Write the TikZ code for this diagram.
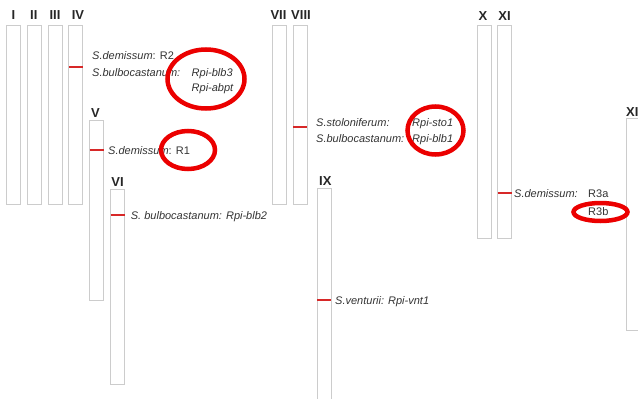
\documentclass[tikz,border=0pt]{standalone}
\usepackage{fontspec}
\setmainfont{Liberation Sans}
\begin{document}
\begin{tikzpicture}[x=1pt,y=-1pt,
  chrom/.style={draw=black!20, fill=white, line width=0.9pt, anchor=north west,
    inner sep=0pt, outer sep=0pt, minimum width=14pt},
  num/.style={font=\fontsize{13}{13}\selectfont\bfseries, text=black!85, inner sep=0pt},
  lab/.style={font=\fontsize{11}{11}\selectfont, text=black!80, anchor=base west, inner sep=0pt},
  locus/.style={draw={rgb,255:red,215;green,40;blue,40}, line width=2pt},
  ring/.style={draw={rgb,255:red,235;green,0;blue,0}, line width=4.5pt}]
\useasboundingbox (0,0) rectangle (638,399);
% chromosomes
\node[chrom, minimum height=179pt] (c1) at (6.5,25) {};
\node[chrom, minimum height=179pt] (c2) at (27.3,25) {};
\node[chrom, minimum height=179pt] (c3) at (48,25) {};
\node[chrom, minimum height=179pt] (c4) at (68.8,25) {};
\node[chrom, minimum height=180pt] (c5) at (89.5,120) {};
\node[chrom, minimum height=195pt] (c6) at (110.5,189) {};
\node[chrom, minimum height=179pt] (c7) at (272.3,25) {};
\node[chrom, minimum height=179pt] (c8) at (293.3,25) {};
\node[chrom, minimum height=230pt] (c9) at (317.3,188) {};
\node[chrom, minimum height=213pt] (c10) at (477.3,25) {};
\node[chrom, minimum height=213pt] (c11) at (497.7,25) {};
\node[chrom, minimum height=212pt, minimum width=30pt] (c12) at (626.7,118) {};
% numerals
\node[num] (n1) at (13.5,15.5) {I};
\node[num] (n2) at (33.8,15.5) {II};
\node[num] (n3) at (55,15.5) {III};
\node[num] (n4) at (78,15.5) {IV};
\node[num] (n5) at (95.5,113) {V};
\node[num] (n6) at (117.5,182) {VI};
\node[num] (n7) at (278.5,15.5) {VII};
\node[num] (n8) at (301,15.5) {VIII};
\node[num] (n9) at (325.3,181) {IX};
\node[num] (n10) at (483,16.5) {X};
\node[num] (n11) at (504.5,16.5) {XI};
\node[num, anchor=west] (n12) at (626,112.5) {XII};
% locus heights
\coordinate (m4) at (0,67);
\coordinate (m5) at (0,150);
\coordinate (m6) at (0,215);
\coordinate (m8) at (0,127);
\coordinate (m9) at (0,300);
\coordinate (m11) at (0,193);
% loci
\draw[locus] (c4.west |- m4) -- (c4.east |- m4);
\draw[locus] (c5.west |- m5) -- (c5.east |- m5);
\draw[locus] (c6.west |- m6) -- (c6.east |- m6);
\draw[locus] (c8.west |- m8) -- (c8.east |- m8);
\draw[locus] (c9.west |- m9) -- (c9.east |- m9);
\draw[locus] (c11.west |- m11) -- (c11.east |- m11);
% labels
\node[lab] (t1) at (92,59) {\textit{S.demissum}: R2};
\node[lab] (t2) at (92,76) {\textit{S.bulbocastanum:}};
\node[lab] (t3) at (191.5,76) {\textit{Rpi-blb3}};
\node[lab] (t4) at (191.5,91) {\textit{Rpi-abpt}};
\node[lab] (t5) at (108,154) {\textit{S.demissum}: R1};
\node[lab] (t6) at (130.7,219) {\textit{S. bulbocastanum: Rpi-blb2}};
\node[lab] (t7) at (316,126) {\textit{S.stoloniferum:}};
\node[lab] (t8) at (316,142) {\textit{S.bulbocastanum:}};
\node[lab] (t9) at (412,126) {\textit{Rpi-sto1}};
\node[lab] (t10) at (412,142) {\textit{Rpi-blb1}};
\node[lab] (t11) at (335,304) {\textit{S.venturii: Rpi-vnt1}};
\node[lab] (t12) at (514,197.5) {\textit{S.demissum:}};
\node[lab] (t13) at (588,197.5) {R3a};
\node[lab] (t14) at (588,215.5) {R3b};
% highlight rings
\draw[ring] (206,79) ellipse [x radius=38.5pt, y radius=29.5pt];
\draw[ring] (188,150) ellipse [x radius=27pt, y radius=19pt];
\draw[ring] (435.5,130.5) ellipse [x radius=28pt, y radius=24pt];
\draw[ring] (600.5,212) ellipse [x radius=27pt, y radius=9pt];
\end{tikzpicture}
\end{document}
